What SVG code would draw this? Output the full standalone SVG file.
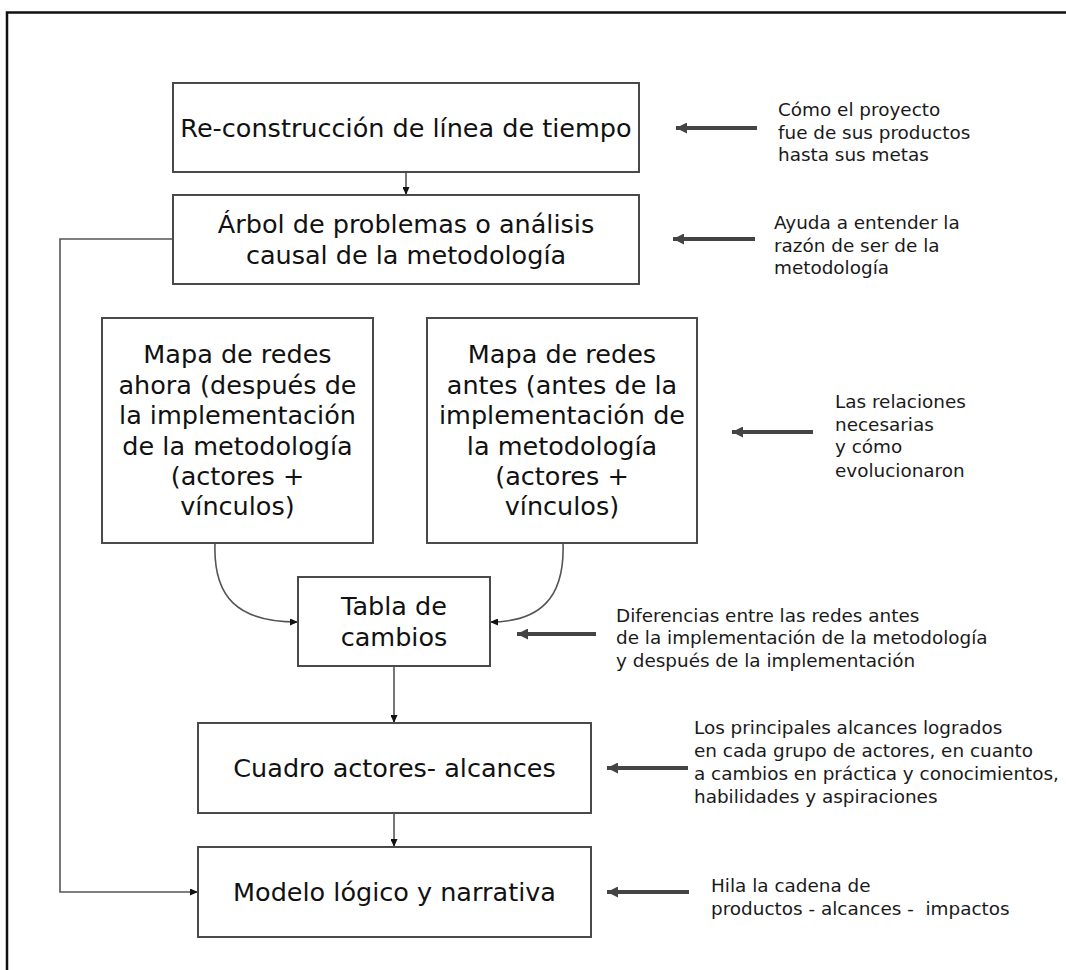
<svg xmlns="http://www.w3.org/2000/svg" width="1066" height="970" viewBox="0 0 1066 970">
<style>
.box{fill:#fff;stroke:#4a4a4a;stroke-width:2}
.bt{font-family:"DejaVu Sans","Verdana",sans-serif;font-size:25.5px;fill:#111;text-anchor:middle}
.nt{font-family:"DejaVu Sans","Verdana",sans-serif;font-size:18.4px;fill:#1a1a1a}
.con{fill:none;stroke:#555;stroke-width:1.6}
.side{fill:none;stroke:#444;stroke-width:4}
</style>
<defs>
<marker id="ah" viewBox="0 0 8 7" refX="8" refY="3.5" markerWidth="8" markerHeight="7" markerUnits="userSpaceOnUse" orient="auto">
<path d="M0,0 L8,3.5 L0,7 z" fill="#111"/>
</marker>
<marker id="sh" viewBox="0 0 11 11" refX="11" refY="5.5" markerWidth="11" markerHeight="11" markerUnits="userSpaceOnUse" orient="auto">
<path d="M0,0 L11,5.5 L0,11 z" fill="#444"/>
</marker>
</defs>
<rect width="1066" height="970" fill="#fff"/>
<path d="M7,970 V12.5 H1066" fill="none" stroke="#111" stroke-width="2.5"/>

<g id="connectors">
<path class="con" d="M406,172 V195" marker-end="url(#ah)"/>
<path class="con" d="M173,239 H60 V892 H198" marker-end="url(#ah)"/>
<path class="con" d="M215,543 C213,598 238,622 298,622" marker-end="url(#ah)"/>
<path class="con" d="M563,543 C565,598 540,622 490,622" marker-end="url(#ah)"/>
<path class="con" d="M394,666 V723" marker-end="url(#ah)"/>
<path class="con" d="M394,813 V847" marker-end="url(#ah)"/>
<path class="side" d="M757,128 H676" marker-end="url(#sh)"/>
<path class="side" d="M755,239 H673" marker-end="url(#sh)"/>
<path class="side" d="M813,432 H732" marker-end="url(#sh)"/>
<path class="side" d="M596,634 H517" marker-end="url(#sh)"/>
<path class="side" d="M688,768 H607" marker-end="url(#sh)"/>
<path class="side" d="M689,892 H607" marker-end="url(#sh)"/>
</g>

<g id="n-linea">
<rect class="box" x="173" y="83" width="466" height="89"/>
<text class="bt" x="406" y="137">Re-construcción de línea de tiempo</text>
</g>
<g id="n-arbol">
<rect class="box" x="173" y="195" width="466" height="89"/>
<text class="bt" x="406" y="233">Árbol de problemas o análisis</text>
<text class="bt" x="406" y="264">causal de la metodología</text>
</g>
<g id="n-mapa-ahora">
<rect class="box" x="102" y="318" width="271" height="225"/>
<text class="bt" x="237.5" y="363">Mapa de redes</text>
<text class="bt" x="237.5" y="394">ahora (después de</text>
<text class="bt" x="237.5" y="424">la implementación</text>
<text class="bt" x="237.5" y="455">de la metodología</text>
<text class="bt" x="237.5" y="485">(actores +</text>
<text class="bt" x="237.5" y="515">vínculos)</text>
</g>
<g id="n-mapa-antes">
<rect class="box" x="427" y="318" width="270" height="225"/>
<text class="bt" x="562" y="363">Mapa de redes</text>
<text class="bt" x="562" y="394">antes (antes de la</text>
<text class="bt" x="562" y="424">implementación de</text>
<text class="bt" x="562" y="455">la metodología</text>
<text class="bt" x="562" y="485">(actores +</text>
<text class="bt" x="562" y="515">vínculos)</text>
</g>
<g id="n-tabla">
<rect class="box" x="298" y="577" width="192" height="89"/>
<text class="bt" x="394" y="615">Tabla de</text>
<text class="bt" x="394" y="646">cambios</text>
</g>
<g id="n-cuadro">
<rect class="box" x="198" y="723" width="393" height="90"/>
<text class="bt" x="394.5" y="777">Cuadro actores- alcances</text>
</g>
<g id="n-modelo">
<rect class="box" x="198" y="847" width="393" height="90"/>
<text class="bt" x="394.5" y="901">Modelo lógico y narrativa</text>
</g>

<g id="note-linea">
<text class="nt" x="778" y="116">Cómo el proyecto</text>
<text class="nt" x="778" y="139">fue de sus productos</text>
<text class="nt" x="778" y="161">hasta sus metas</text>
</g>
<g id="note-arbol">
<text class="nt" x="774" y="229">Ayuda a entender la</text>
<text class="nt" x="774" y="252">razón de ser de la</text>
<text class="nt" x="774" y="274">metodología</text>
</g>
<g id="note-mapa">
<text class="nt" x="835" y="408">Las relaciones</text>
<text class="nt" x="835" y="431">necesarias</text>
<text class="nt" x="835" y="453">y cómo</text>
<text class="nt" x="835" y="477">evolucionaron</text>
</g>
<g id="note-tabla">
<text class="nt" x="616" y="622">Diferencias entre las redes antes</text>
<text class="nt" x="616" y="644">de la implementación de la metodología</text>
<text class="nt" x="616" y="667">y después de la implementación</text>
</g>
<g id="note-cuadro">
<text class="nt" x="694" y="734">Los principales alcances logrados</text>
<text class="nt" x="694" y="757">en cada grupo de actores, en cuanto</text>
<text class="nt" x="694" y="780">a cambios en práctica y conocimientos,</text>
<text class="nt" x="694" y="803">habilidades y aspiraciones</text>
</g>
<g id="note-modelo">
<text class="nt" x="711" y="892">Hila la cadena de</text>
<text class="nt" x="711" y="915">productos - alcances -&#160; impactos</text>
</g>
</svg>
